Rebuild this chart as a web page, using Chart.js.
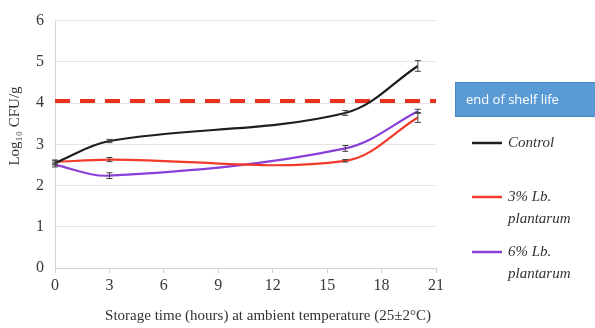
<!DOCTYPE html>
<html><head><meta charset="utf-8">
<script src="https://cdn.jsdelivr.net/npm/chart.js@4"></script>
<style>html,body{margin:0;padding:0;background:#fff;}#wrap{position:relative;width:595px;height:328px;}</style>
</head><body><div id="wrap"><canvas id="c" width="595" height="328"></canvas></div>
<script>
const hours = [0, 3, 16, 20];
const controlVals = [2.55, 3.08, 3.76, 4.9];
const controlErr = [0.05, 0.04, 0.06, 0.13];
const lb3Vals = [2.57, 2.63, 2.6, 3.65];
const lb3Err = [0.05, 0.05, 0.03, 0.12];
const lb6Vals = [2.5, 2.24, 2.9, 3.8];
const lb6Err = [0.05, 0.07, 0.07, 0.05];
const shelfLife = 4.05;
const xTicks = [0, 3, 6, 9, 12, 15, 18, 21];
const yTicks = [0, 1, 2, 3, 4, 5, 6];
const seriesNames = ['Control', '3% Lb. plantarum', '6% Lb. plantarum'];
const shelfLabel = 'end of shelf life';
const xTitle = 'Storage time (hours) at ambient temperature (25±2°C)';
const yTitle = 'Log₁₀ CFU/g';

const colors = ['#1e1e1e', '#f23a2c', '#8a3fd8'];
const pts = v => hours.map((h, i) => ({x: h, y: v[i]}));

const errPlugin = {
  id: 'err',
  afterDatasetsDraw(chart) {
    const ctx = chart.ctx, xs = chart.scales.x, ys = chart.scales.y;
    const sets = [[controlVals, controlErr], [lb3Vals, lb3Err], [lb6Vals, lb6Err]];
    ctx.save();
    ctx.strokeStyle = '#444';
    ctx.lineWidth = 1;
    sets.forEach(([v, e]) => {
      hours.forEach((h, i) => {
        const px = xs.getPixelForValue(h);
        const t = ys.getPixelForValue(v[i] + e[i]);
        const b = ys.getPixelForValue(v[i] - e[i]);
        ctx.beginPath();
        ctx.moveTo(px, t); ctx.lineTo(px, b);
        ctx.moveTo(px - 3, t); ctx.lineTo(px + 3, t);
        ctx.moveTo(px - 3, b); ctx.lineTo(px + 3, b);
        ctx.stroke();
      });
    });
    ctx.restore();
  }
};

const legendPlugin = {
  id: 'leg',
  afterDraw(chart) {
    const ctx = chart.ctx;
    ctx.save();
    ctx.fillStyle = '#5b9bd5';
    ctx.fillRect(455, 82, 140, 35);
    ctx.strokeStyle = '#4a87c0';
    ctx.lineWidth = 1;
    ctx.strokeRect(455.5, 82.5, 140, 34);
    ctx.fillStyle = '#ffffff';
    ctx.font = '13px "Open Sans", sans-serif';
    ctx.textBaseline = 'middle';
    ctx.fillText(shelfLabel, 466, 100);
    const items = [
      {y: 143, lines: [seriesNames[0]]},
      {y: 197, lines: ['3% Lb.', 'plantarum']},
      {y: 252, lines: ['6% Lb.', 'plantarum']}
    ];
    ctx.font = 'italic 15px "Liberation Serif", serif';
    items.forEach((it, i) => {
      ctx.strokeStyle = colors[i];
      ctx.lineWidth = 2.5;
      ctx.beginPath(); ctx.moveTo(472, it.y); ctx.lineTo(502, it.y); ctx.stroke();
      ctx.fillStyle = '#333';
      it.lines.forEach((l, k) => ctx.fillText(l, 508, it.y + k * 22));
    });
    // axis titles
    ctx.fillStyle = '#333';
    ctx.font = '15px "Liberation Serif", serif';
    ctx.textAlign = 'center';
    ctx.fillText(xTitle, 268, 316);
    ctx.translate(15, 126);
    ctx.rotate(-Math.PI / 2);
    ctx.fillText(yTitle, 0, 0);
    ctx.restore();
  }
};

new Chart(document.getElementById('c'), {
  type: 'line',
  data: {
    datasets: [
      {label: seriesNames[0], data: pts(controlVals), borderColor: colors[0], borderWidth: 2.2, tension: 0.35, pointRadius: 0},
      {label: seriesNames[1], data: pts(lb3Vals), borderColor: colors[1], borderWidth: 2.2, tension: 0.35, pointRadius: 0},
      {label: seriesNames[2], data: pts(lb6Vals), borderColor: colors[2], borderWidth: 2.2, tension: 0.35, pointRadius: 0},
      {label: shelfLabel, data: [{x: 0, y: shelfLife}, {x: 21, y: shelfLife}], borderColor: '#e8321e', borderWidth: 4, borderDash: [15, 10], pointRadius: 0, tension: 0}
    ]
  },
  options: {
    responsive: false,
    animation: false,
    layout: {padding: {left: 0, right: 159, top: 14, bottom: 0}},
    plugins: {legend: {display: false}, tooltip: {enabled: false}},
    scales: {
      x: {
        type: 'linear', min: 0, max: 21,
        afterBuildTicks: s => { s.ticks = xTicks.map(v => ({value: v})); },
        afterFit: s => { s.height = 60; },
        grid: {display: true, drawOnChartArea: false, drawTicks: true, tickLength: 5, color: '#d0d0d0'},
        border: {color: '#d0d0d0'},
        ticks: {color: '#383838', font: {family: '"Liberation Serif", serif', size: 16}, padding: 3, maxRotation: 0},
        title: {display: false}
      },
      y: {
        min: 0, max: 6,
        afterBuildTicks: s => { s.ticks = yTicks.map(v => ({value: v})); },
        afterFit: s => { s.width = 55; },
        grid: {color: '#e4e4e4', drawTicks: false},
        border: {color: '#d8d8d8'},
        ticks: {color: '#383838', font: {family: '"Liberation Serif", serif', size: 16}, padding: 11},
        title: {display: false}
      }
    }
  },
  plugins: [errPlugin, legendPlugin]
});
</script></body></html>
